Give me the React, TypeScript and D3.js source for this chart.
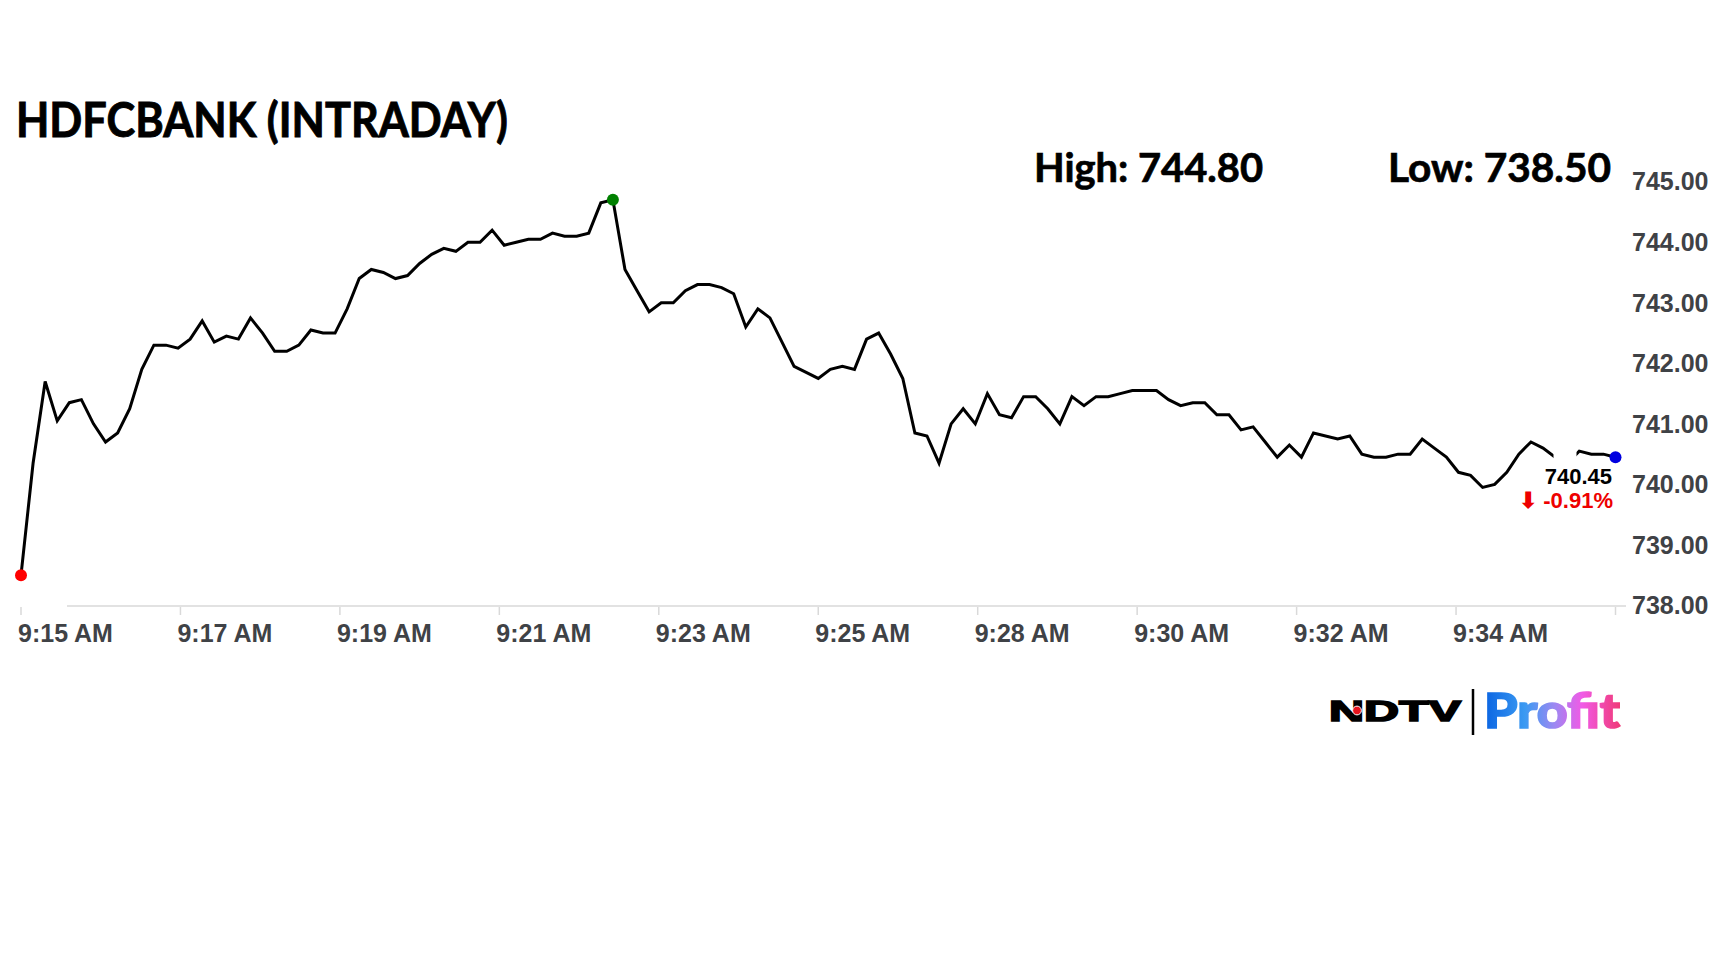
import { useMemo } from 'react';
import * as d3 from 'd3';

// intraday prices, one per sample
const prices: number[] = [
  738.50, 740.35, 741.70, 741.05, 741.35, 741.40, 741.00, 740.70, 740.85, 741.25,
  741.90, 742.30, 742.30, 742.25, 742.40, 742.70, 742.35, 742.45, 742.40, 742.75,
  742.50, 742.20, 742.20, 742.30, 742.55, 742.50, 742.50, 742.90, 743.40, 743.55,
  743.50, 743.40, 743.45, 743.65, 743.80, 743.90, 743.85, 744.00, 744.00, 744.20,
  743.95, 744.00, 744.05, 744.05, 744.15, 744.10, 744.10, 744.15, 744.65, 744.70,
  743.55, 743.20, 742.85, 743.00, 743.00, 743.20, 743.30, 743.30, 743.25, 743.15,
  742.60, 742.90, 742.75, 742.35, 741.95, 741.85, 741.75, 741.90, 741.95, 741.90,
  742.40, 742.50, 742.15, 741.75, 740.85, 740.80, 740.35, 741.00, 741.25, 741.00,
  741.50, 741.15, 741.10, 741.45, 741.45, 741.25, 741.00, 741.45, 741.30, 741.45,
  741.45, 741.50, 741.55, 741.55, 741.55, 741.40, 741.30, 741.35, 741.35, 741.15,
  741.15, 740.90, 740.95, 740.70, 740.45, 740.65, 740.45, 740.85, 740.80, 740.75,
  740.80, 740.50, 740.45, 740.45, 740.50, 740.50, 740.75, 740.60, 740.45, 740.20,
  740.15, 739.95, 740.00, 740.20, 740.50, 740.70, 740.60, 740.45, 740.35, 740.55,
  740.50, 740.50, 740.45,
];

const timeLabels: string[] = [
  '9:15 AM', '9:17 AM', '9:19 AM', '9:21 AM', '9:23 AM',
  '9:25 AM', '9:28 AM', '9:30 AM', '9:32 AM', '9:34 AM',
];

const priceTicks: number[] = [738, 739, 740, 741, 742, 743, 744, 745];

const symbol = 'HDFCBANK';
const dayHigh = 744.8;
const dayLow = 738.5;
const changePct = -0.91;

const LABEL_FONT = '"Liberation Sans", Arial, sans-serif';
const HEAD_FONT = 'Lato, "Open Sans", sans-serif';

const App = () => {
  const n = prices.length;

  const xScale = useMemo(() => d3.scaleLinear().domain([0, n - 1]).range([21, 1615.5]), [n]);
  const yScale = useMemo(() => d3.scaleLinear().domain([738, 745]).range([605.5, 181.7]), []);

  const linePath = useMemo(() => {
    const gen = d3.line<number>()
      .x((_, i) => xScale(i))
      .y(d => yScale(d));
    return gen(prices) || undefined;
  }, [xScale, yScale]);

  // 10 even intervals across the samples
  const xTicks = d3.range(11).map(k => ({
    offset: xScale((k * (n - 1)) / 10),
    label: timeLabels[k],
  }));

  const hiIdx = d3.maxIndex(prices);
  const lastIdx = n - 1;
  const xLast = xScale(lastIdx);
  const yLast = yScale(prices[lastIdx]);
  const axisY = yScale(738) + 0.5;

  return (
    <svg width="1728" height="972" style={{ position: 'absolute', left: 0, top: 0, background: '#fff' }}>
      <defs>
        <linearGradient id="profitGrad" x1="0" y1="0" x2="1" y2="0">
          <stop offset="0%" stopColor="#0a64e2" />
          <stop offset="30%" stopColor="#3b9af2" />
          <stop offset="52%" stopColor="#9d88f2" />
          <stop offset="72%" stopColor="#f15ae6" />
          <stop offset="100%" stopColor="#f03a78" />
        </linearGradient>
      </defs>

      {/* title */}
      <text x="16" y="137" fontFamily={HEAD_FONT} fontWeight="700" fontSize="47"
        textLength="492" lengthAdjust="spacingAndGlyphs" fill="#000" stroke="#000" strokeWidth="0.9">
        {`${symbol} (INTRADAY)`}
      </text>

      <text x="1034" y="181.7" fontFamily={HEAD_FONT} fontWeight="700" fontSize="40"
        textLength="229" lengthAdjust="spacingAndGlyphs" fill="#000" stroke="#000" strokeWidth="0.7">
        {`High: ${dayHigh.toFixed(2)}`}
      </text>
      <text x="1388" y="181.7" fontFamily={HEAD_FONT} fontWeight="700" fontSize="40"
        textLength="223" lengthAdjust="spacingAndGlyphs" fill="#000" stroke="#000" strokeWidth="0.7">
        {`Low: ${dayLow.toFixed(2)}`}
      </text>

      {/* x axis */}
      <line x1="67" y1={axisY} x2="1626" y2={axisY} stroke="#d9d9d9" strokeWidth="1.5" />
      {xTicks.map(({ offset, label }, k) => (
        <g key={k} transform={`translate(${offset}, ${axisY})`}>
          <line y1="1" y2="9" stroke="#d9d9d9" strokeWidth="1.5" />
          {label && (
            <text x="-3" y="36" fontFamily={LABEL_FONT} fontWeight="700" fontSize="25" fill="#3f4246">
              {label}
            </text>
          )}
        </g>
      ))}

      {/* y axis labels */}
      {priceTicks.map(v => (
        <text key={v} x="1632" y={yScale(v)} dy="0.35em" fontFamily={LABEL_FONT} fontWeight="700"
          fontSize="25" fill="#3f4246">
          {v.toFixed(2)}
        </text>
      ))}

      <path d={linePath} fill="none" stroke="#000" strokeWidth="3" strokeLinejoin="miter" />

      <circle cx={xScale(0)} cy={yScale(prices[0])} r="6" fill="#ff0000" />
      <circle cx={xScale(hiIdx)} cy={yScale(prices[hiIdx])} r="6" fill="#008000" />
      <circle cx={xLast} cy={yLast} r="6" fill="#0000e0" />

      {/* last price label */}
      <rect x={xLast - 62} y={yLast - 11} width="23" height="22" fill="#fff" />
      <text x={xLast - 3.5} y={yLast + 26.5} textAnchor="end" fontFamily={LABEL_FONT} fontWeight="700"
        fontSize="22" fill="#000">
        {prices[lastIdx].toFixed(2)}
      </text>
      <text x={xLast - 2.5} y={yLast + 50.5} textAnchor="end" fontFamily={LABEL_FONT} fontWeight="700"
        fontSize="22" fill="#ee0000">
        {`⬇ ${changePct.toFixed(2)}%`}
      </text>

      {/* logo */}
      <text x="1329" y="721" fontFamily={LABEL_FONT} fontWeight="700" fontSize="29"
        textLength="132" lengthAdjust="spacingAndGlyphs" fill="#000" stroke="#000" strokeWidth="1.6">
        NDTV
      </text>
      <circle cx="1357" cy="710.5" r="4.4" fill="#e8141c" stroke="#fff" strokeWidth="1" />
      <line x1="1473" y1="689" x2="1473" y2="735" stroke="#000" strokeWidth="2.5" />
      <text x="1484" y="728" fontFamily={HEAD_FONT} fontWeight="900" fontSize="47"
        textLength="136" lengthAdjust="spacingAndGlyphs" fill="url(#profitGrad)"
        stroke="url(#profitGrad)" strokeWidth="1.6">
        Profit
      </text>
    </svg>
  );
};

export default App;
